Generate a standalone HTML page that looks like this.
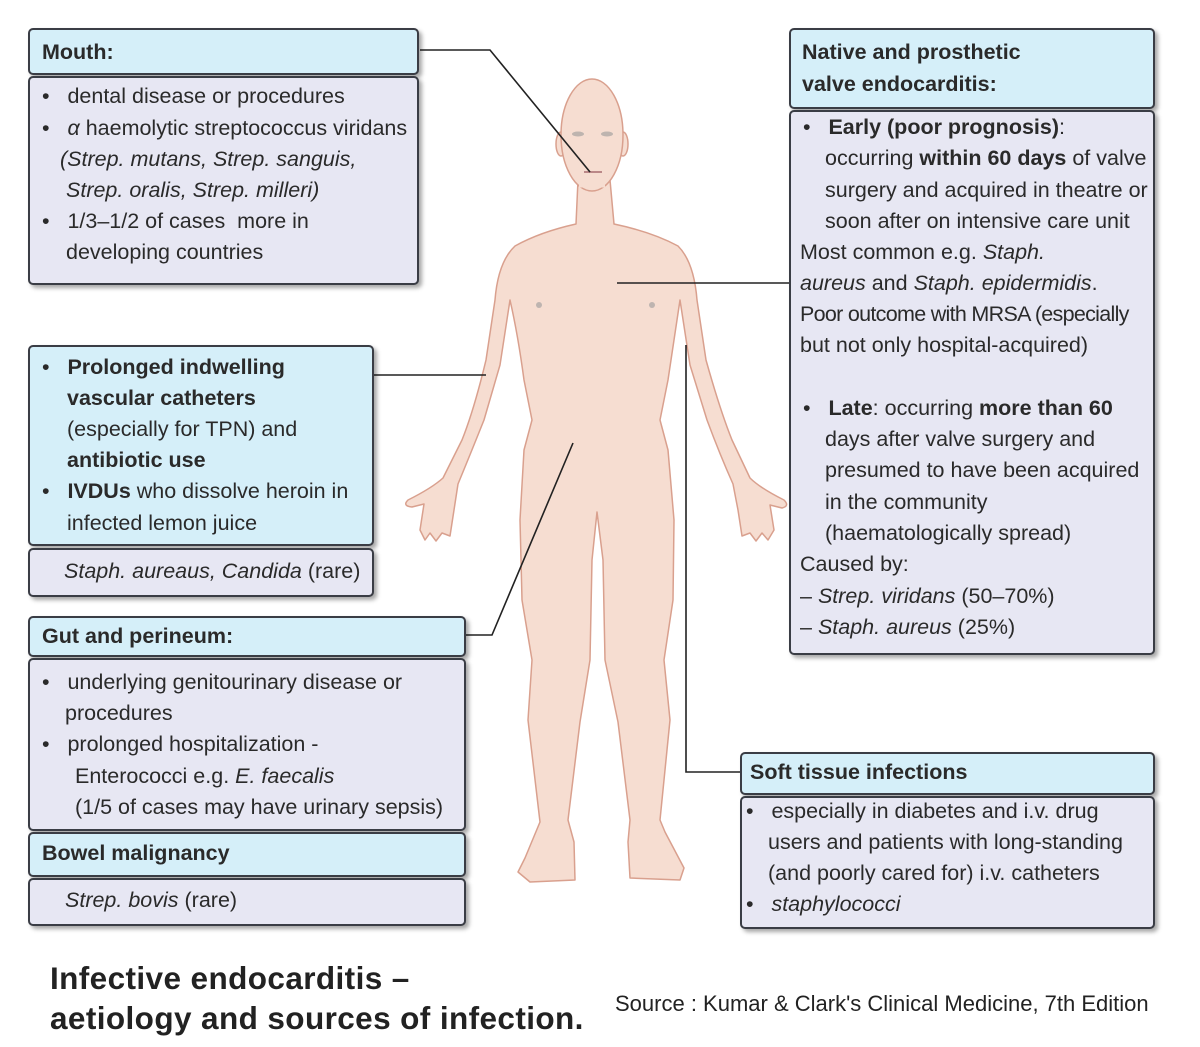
<!DOCTYPE html>
<html><head><meta charset="utf-8"><style>
body{margin:0;width:1200px;height:1047px;background:#fff;position:relative;overflow:hidden;font-family:"Liberation Sans",sans-serif;color:#2a2a2a}
.b{position:absolute;border:2px solid #3a3d45;border-radius:5px;box-shadow:3px 3px 4px rgba(0,0,0,.35);box-sizing:border-box}
.h{background:#d5eff9}.l{background:#e7e7f3}
.t{position:absolute;font-size:21.5px;line-height:24px;white-space:nowrap;letter-spacing:0}
.hb{font-weight:bold}
svg{position:absolute;left:0;top:0}
</style></head><body>
<svg width="1200" height="1047">
<g fill="#f6ddd1" stroke="#d9a08e" stroke-width="1.5" stroke-linejoin="round">
<path d="M578,180 L576,224 Q540,232 515,246 Q498,262 495,300 L486,360 Q474,410 462,440 L443,478 Q432,488 408,500 Q402,506 412,507 L424,504 L420,530 L425,540 L430,533 L436,541 L442,533 L450,536 L454,510 L458,484 Q470,455 484,420 L500,365 L510,300 Q518,335 524,380 L532,420 L524,450 L520,520 L522,600 L532,660 L528,720 L540,822 L525,858 L518,872 L530,882 L575,880 L574,842 L568,820 L580,722 L590,660 L592,560 L597,512 L603,560 L605,660 L618,722 L630,820 L628,842 L630,878 L680,880 L684,868 L665,832 L660,820 L670,720 L664,660 L673,600 L674,520 L668,450 L660,420 L668,380 L680,300 L690,365 L707,420 Q720,455 733,484 L738,510 L742,536 L750,533 L756,541 L762,533 L768,540 L774,530 L770,505 L782,508 Q790,506 784,500 Q760,488 750,478 L732,440 Q720,410 706,360 L697,300 Q694,262 678,246 Q652,232 614,224 L610,180 Z"/>
<ellipse cx="561" cy="144" rx="5" ry="12"/><ellipse cx="623" cy="144" rx="5" ry="12"/>
<ellipse cx="592" cy="135" rx="31" ry="56"/>
<path d="M579,186 L605,186" stroke="#f6ddd1" stroke-width="3"/>
</g>
<g fill="#999" opacity=".6"><ellipse cx="578" cy="134" rx="6" ry="2.5"/><ellipse cx="607" cy="134" rx="6" ry="2.5"/><ellipse cx="539" cy="305" rx="3" ry="3"/><ellipse cx="652" cy="305" rx="3" ry="3"/></g>
<path d="M584,172 L602,172" stroke="#b88" stroke-width="2"/>
<g fill="none" stroke="#222" stroke-width="1.6">
<polyline points="420,50 490,50 590,172"/>
<line x1="617" y1="283" x2="790" y2="283"/>
<line x1="372" y1="375" x2="486" y2="375"/>
<polyline points="465,635 492,635 573,443"/>
<polyline points="686,345 686,772 740,772"/>
</g>
</svg>

<div class="b h" style="left:28px;top:28px;width:391px;height:47px"></div>
<div class="b l" style="left:28px;top:76px;width:391px;height:209px"></div>
<div class="t hb" style="left:42px;top:40px">Mouth:</div>
<div class="t" style="left:42px;top:84px">•&nbsp;&nbsp; dental disease or procedures</div>
<div class="t" style="left:42px;top:116px">•&nbsp;&nbsp; <i>α</i> haemolytic streptococcus viridans</div>
<div class="t" style="left:60px;top:147px"><i>(Strep. mutans, Strep. sanguis,</i></div>
<div class="t" style="left:66px;top:178px"><i>Strep. oralis, Strep. milleri)</i></div>
<div class="t" style="left:42px;top:209px">•&nbsp;&nbsp; 1/3–1/2 of cases&nbsp; more in</div>
<div class="t" style="left:66px;top:240px">developing countries</div>

<div class="b h" style="left:28px;top:345px;width:346px;height:201px"></div>
<div class="b l" style="left:28px;top:548px;width:346px;height:49px"></div>
<div class="t" style="left:42px;top:355px">•&nbsp;&nbsp; <b>Prolonged indwelling</b></div>
<div class="t hb" style="left:67px;top:386px">vascular catheters</div>
<div class="t" style="left:67px;top:417px">(especially for TPN) and</div>
<div class="t hb" style="left:67px;top:448px">antibiotic use</div>
<div class="t" style="left:42px;top:479px">•&nbsp;&nbsp; <b>IVDUs</b> who dissolve heroin in</div>
<div class="t" style="left:67px;top:511px">infected lemon juice</div>
<div class="t" style="left:64px;top:559px"><i>Staph. aureaus, Candida</i> (rare)</div>

<div class="b h" style="left:28px;top:616px;width:438px;height:41px"></div>
<div class="b l" style="left:28px;top:658px;width:438px;height:173px"></div>
<div class="b h" style="left:28px;top:832px;width:438px;height:45px"></div>
<div class="b l" style="left:28px;top:878px;width:438px;height:48px"></div>
<div class="t hb" style="left:42px;top:624px">Gut and perineum:</div>
<div class="t" style="left:42px;top:670px">•&nbsp;&nbsp; underlying genitourinary disease or</div>
<div class="t" style="left:65px;top:701px">procedures</div>
<div class="t" style="left:42px;top:732px">•&nbsp;&nbsp; prolonged hospitalization -</div>
<div class="t" style="left:75px;top:764px">Enterococci e.g. <i>E. faecalis</i></div>
<div class="t" style="left:75px;top:795px">(1/5 of cases may have urinary sepsis)</div>
<div class="t hb" style="left:42px;top:841px">Bowel malignancy</div>
<div class="t" style="left:65px;top:888px"><i>Strep. bovis</i> (rare)</div>

<div class="b h" style="left:789px;top:28px;width:366px;height:81px"></div>
<div class="b l" style="left:789px;top:110px;width:366px;height:545px"></div>
<div class="t hb" style="left:802px;top:40px">Native and prosthetic</div>
<div class="t hb" style="left:802px;top:72px">valve endocarditis:</div>
<div class="t" style="left:803px;top:115px">•&nbsp;&nbsp; <b>Early (poor prognosis)</b>:</div>
<div class="t" style="left:825px;top:146px">occurring <b>within 60 days</b> of valve</div>
<div class="t" style="left:825px;top:178px">surgery and acquired in theatre or</div>
<div class="t" style="left:825px;top:209px">soon after on intensive care unit</div>
<div class="t" style="left:800px;top:240px">Most common e.g. <i>Staph.</i></div>
<div class="t" style="left:800px;top:271px"><i>aureus</i> and <i>Staph. epidermidis</i>.</div>
<div class="t" style="left:800px;top:302px;letter-spacing:-0.7px">Poor outcome with MRSA (especially</div>
<div class="t" style="left:800px;top:333px">but not only hospital-acquired)</div>
<div class="t" style="left:803px;top:396px">•&nbsp;&nbsp; <b>Late</b>: occurring <b>more than 60</b></div>
<div class="t" style="left:825px;top:427px">days after valve surgery and</div>
<div class="t" style="left:825px;top:458px">presumed to have been acquired</div>
<div class="t" style="left:825px;top:490px">in the community</div>
<div class="t" style="left:825px;top:521px">(haematologically spread)</div>
<div class="t" style="left:800px;top:552px">Caused by:</div>
<div class="t" style="left:800px;top:584px">– <i>Strep. viridans</i> (50–70%)</div>
<div class="t" style="left:800px;top:615px">– <i>Staph. aureus</i> (25%)</div>

<div class="b h" style="left:740px;top:752px;width:415px;height:43px"></div>
<div class="b l" style="left:740px;top:796px;width:415px;height:133px"></div>
<div class="t hb" style="left:750px;top:760px">Soft tissue infections</div>
<div class="t" style="left:746px;top:799px">•&nbsp;&nbsp; especially in diabetes and i.v. drug</div>
<div class="t" style="left:768px;top:830px">users and patients with long-standing</div>
<div class="t" style="left:768px;top:861px">(and poorly cared for) i.v. catheters</div>
<div class="t" style="left:746px;top:892px">•&nbsp;&nbsp; <i>staphylococci</i></div>

<div style="position:absolute;left:50px;top:958px;font-size:31.5px;font-weight:bold;line-height:40px;color:#222;white-space:nowrap;letter-spacing:0.4px">Infective endocarditis –<br>aetiology and sources of infection.</div>
<div style="position:absolute;left:615px;top:991px;font-size:22px;white-space:nowrap;color:#222">Source : Kumar &amp; Clark's Clinical Medicine, 7th Edition</div>
</body></html>
